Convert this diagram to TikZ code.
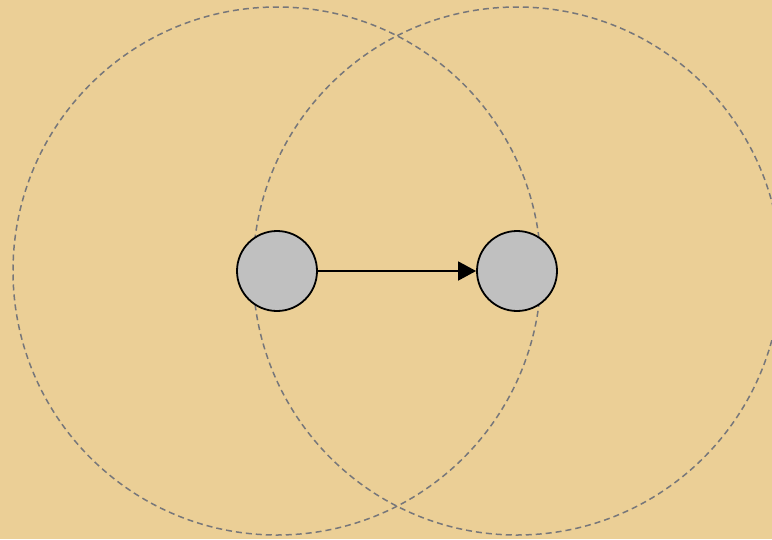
\documentclass[tikz,border=0pt]{standalone}
\usetikzlibrary{arrows.meta}
\definecolor{papyrus}{HTML}{EBCF96}
\definecolor{dashgray}{HTML}{77777A}
\definecolor{nodegray}{HTML}{C0C0C0}
\tikzset{
  vertex/.style={circle, draw=black, line width=1.8pt, fill=nodegray, minimum size=80pt, inner sep=0pt},
  rangering/.style={draw=dashgray, line width=1.5pt, dash pattern=on 6pt off 4pt},
  edgearrow/.style={draw=black, line width=1.7pt, -{Triangle[length=18pt, width=19pt]}}
}
\begin{document}
\begin{tikzpicture}[x=1pt, y=-1pt]
\fill[papyrus] (0,0) rectangle (772,539);
\useasboundingbox (0,0) rectangle (772,539);
\begin{scope}
\clip (0,0) rectangle (772,539);
\draw[rangering] (277,271) circle[radius=264];
\draw[rangering] (517,271) circle[radius=264];
\end{scope}
\node[vertex] (a) at (277,271) {};
\node[vertex] (b) at (517,271) {};
\draw[edgearrow] (a) -- (b);
\end{tikzpicture}
\end{document}
